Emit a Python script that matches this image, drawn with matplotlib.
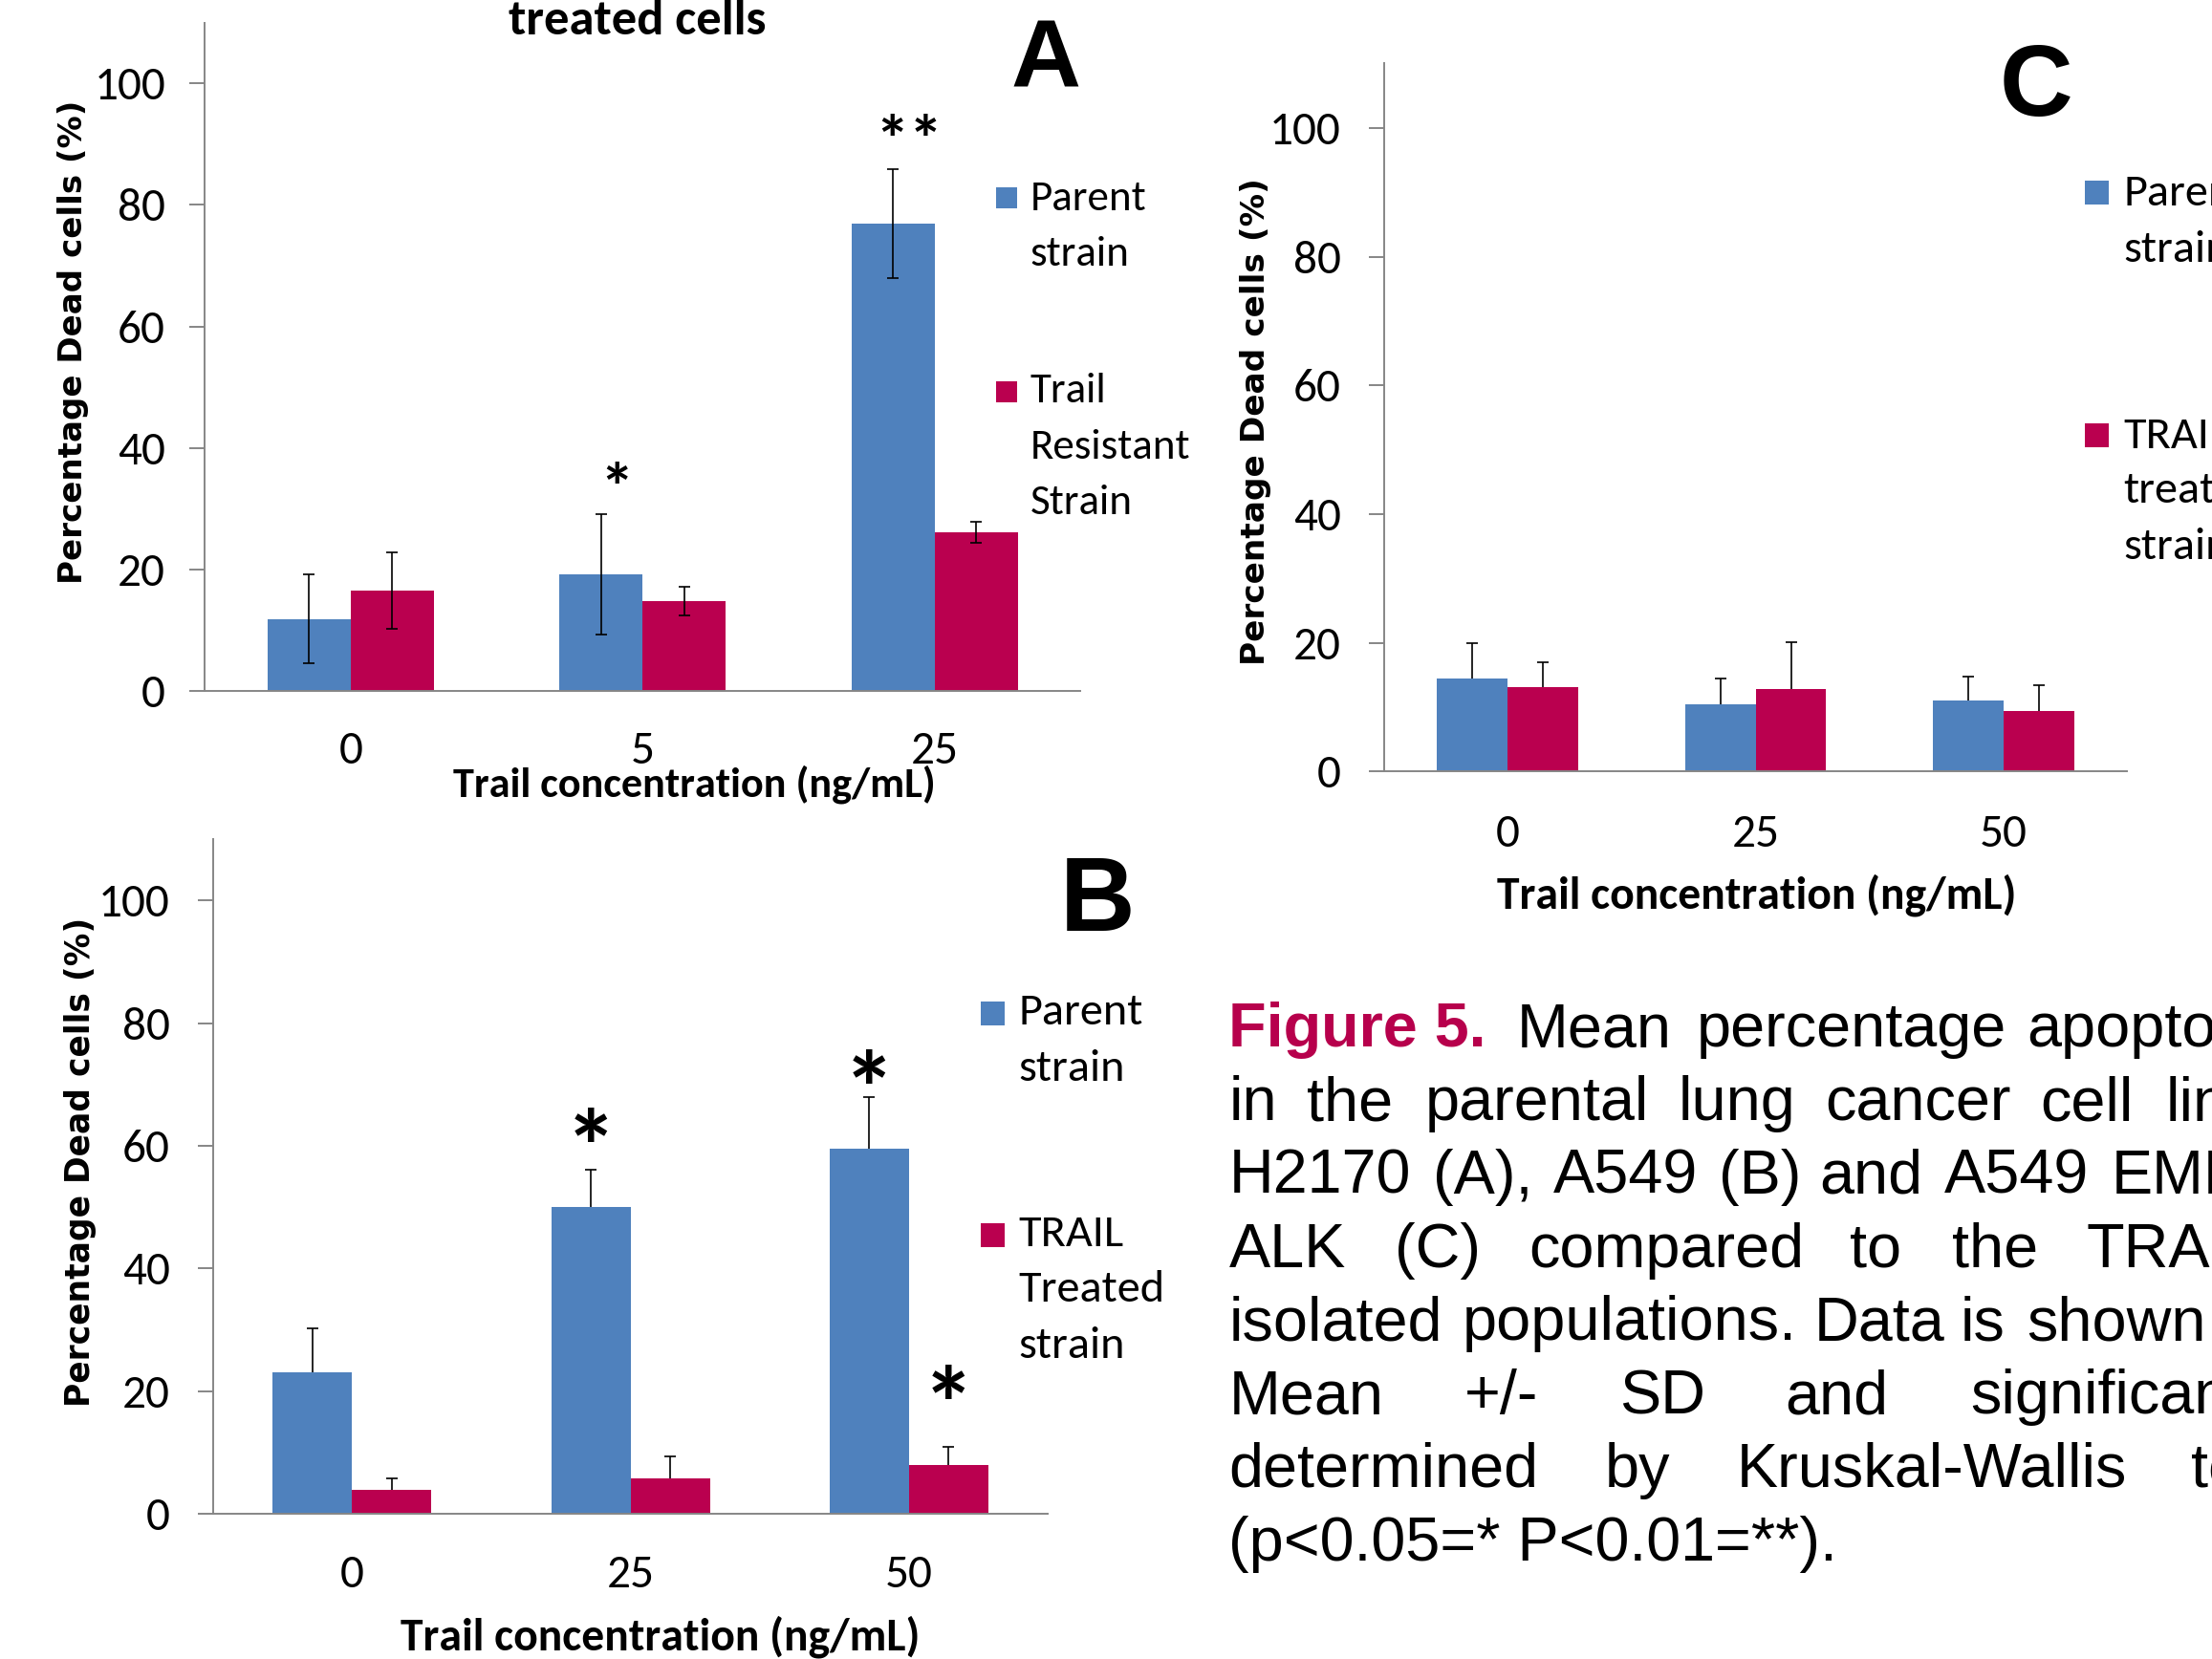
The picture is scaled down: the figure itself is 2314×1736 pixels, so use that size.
import matplotlib
matplotlib.use('Agg')
import matplotlib.pyplot as plt
from matplotlib import font_manager
from matplotlib.font_manager import FontProperties
from matplotlib.textpath import TextPath
from matplotlib.patches import Rectangle
import numpy as np

# ---------------- data ----------------
y_ticks = [0, 20, 40, 60, 80, 100]
x_label = 'Trail concentration (ng/mL)'
y_label = 'Percentage Dead cells (%)'

a_categories = ['0', '5', '25']
a_parent = [11.9, 19.2, 76.9]
a_parent_sd = [7.3, 9.9, 9.0]
a_resistant = [16.6, 14.8, 26.1]
a_resistant_sd = [6.3, 2.4, 1.7]
a_legend = [['Parent', 'strain'], ['Trail', 'Resistant', 'Strain']]
a_title = 'treated cells'
a_sig = [(1, 0, '*'), (2, 0, '**')]          # (category, series, label)

b_categories = ['0', '25', '50']
b_parent = [23.0, 50.1, 59.6]
b_parent_sd = [7.3, 6.0, 8.3]
b_treated = [3.9, 5.8, 7.9]
b_treated_sd = [1.9, 3.6, 3.0]
b_legend = [['Parent', 'strain'], ['TRAIL', 'Treated', 'strain']]
b_sig = [(1, 0, '*'), (2, 0, '*'), (2, 1, '*')]

c_categories = ['0', '25', '50']
c_parent = [14.5, 10.4, 11.0]
c_parent_sd = [5.5, 4.1, 3.8]
c_treated = [13.1, 12.9, 9.4]
c_treated_sd = [3.9, 7.2, 4.1]
c_legend = [['Parent', 'strain'], ['TRAIL', 'treated', 'strain']]

caption_head = 'Figure 5.'
caption_lines = [
    ['Mean', 'percentage', 'apoptosis'],
    ['in', 'the', 'parental', 'lung', 'cancer', 'cell', 'lines'],
    ['H2170', '(A),', 'A549', '(B)', 'and', 'A549', 'EML4-'],
    ['ALK', '(C)', 'compared', 'to', 'the', 'TRAIL'],
    ['isolated', 'populations.', 'Data', 'is', 'shown'],
    ['Mean', '+/-', 'SD', 'and', 'significance'],
    ['determined', 'by', 'Kruskal-Wallis', 'test'],
    ['(p<0.05=* P<0.01=**).'],
]

# ---------------- layout (reference grid 1568 x 1176) ----------------
W, H = 2314, 1736
DW, DH = 1568.0, 1176.0
S = W / DW
PT = S * 72.0 / 100.0          # points per reference-grid pixel

installed = {f.name for f in font_manager.fontManager.ttflist}
def pick(cands):
    for c in cands:
        if c in installed:
            return c
    return 'DejaVu Sans'

CAL = pick(['Carlito', 'Calibri', 'Lato', 'Open Sans'])
ARIAL = pick(['Liberation Sans', 'Arimo', 'DejaVu Sans'])
VERD = 'DejaVu Sans'

plt.rcParams['font.family'] = [CAL, 'DejaVu Sans']

BLUE = '#4F81BD'
RED = '#BA004F'
AXC = '#868686'
CAPC = '#B7004C'


def ink(text, family, weight='normal', size=100.0):
    fp = FontProperties(family=family, weight=weight)
    return TextPath((0, 0), text, size=size, prop=fp).get_extents()


def fit(text, family, weight, target_w):
    e = ink(text, family, weight)
    return 100.0 * target_w * PT / e.width


def fx(x):
    return x / DW


def fy(y):
    return 1.0 - y / DH


def rect(l, r, t, b):
    return [l / DW, 1.0 - b / DH, (r - l) / DW, (b - t) / DH]


fig = plt.figure(figsize=(W / 100, H / 100), dpi=100)
fig.patch.set_facecolor('white')

BW = 0.285


def panel(r, cats, s1, e1, s2, e2, symmetric, ypad, xpad, tick_w,
          xl_w, xl_pos, yl_h, yl_pos):
    ax = fig.add_axes(r)
    x = np.arange(len(cats)) + 0.5
    ax.bar(x - BW / 2, s1, BW, color=BLUE, linewidth=0, zorder=2)
    ax.bar(x + BW / 2, s2, BW, color=RED, linewidth=0, zorder=2)
    for xs, v, e in [(x - BW / 2, s1, e1), (x + BW / 2, s2, e2)]:
        e = np.asarray(e, dtype=float)
        yerr = e if symmetric else [np.zeros_like(e), e]
        _, caps, _ = ax.errorbar(xs, v, yerr=yerr, fmt='none', ecolor='black',
                                 elinewidth=1.2, capsize=4.5, capthick=1.2,
                                 zorder=3)
        if not symmetric:
            caps[0].set_visible(False)
    ax.set_xlim(0, len(cats))
    ax.set_ylim(0, 110)
    ax.set_xticks(x, cats)
    ax.set_yticks(y_ticks)
    for sp in ['top', 'right']:
        ax.spines[sp].set_visible(False)
    for sp in ['left', 'bottom']:
        ax.spines[sp].set_color(AXC)
        ax.spines[sp].set_linewidth(1.4)
    ts = fit('100', CAL, 'normal', tick_w)
    ax.tick_params(axis='y', direction='out', length=11.5, width=1.4,
                   color=AXC, pad=ypad, labelsize=ts)
    ax.tick_params(axis='x', length=0, pad=xpad, labelsize=ts)
    ax.set_facecolor('none')
    xs_ = fit(x_label, CAL, 'bold', xl_w)
    ax.set_xlabel(x_label, fontweight='bold', fontsize=xs_, va='center')
    ax.xaxis.set_label_coords(*xl_pos)
    ys_ = fit(y_label, VERD, 'bold', yl_h)
    ax.set_ylabel(y_label, family=[VERD], fontweight='bold', fontsize=ys_,
                  va='center')
    ax.yaxis.set_label_coords(*yl_pos)
    return ax, x


def legend(sq_x, sq_size, sq_tops, tx, line_ys, labels, fs):
    for col, top, ys, lines in zip([BLUE, RED], sq_tops, line_ys, labels):
        fig.add_artist(Rectangle((fx(sq_x), fy(top + sq_size)), sq_size / DW,
                                 sq_size / DH, transform=fig.transFigure,
                                 facecolor=col, edgecolor='none'))
        for y, t in zip(ys, lines):
            fig.text(fx(tx), fy(y), t, fontsize=fs, ha='left', va='center',
                     family=[CAL, 'DejaVu Sans'])


def stars(ax, x, sig, vals, errs, gaps, dx, family, weight, size):
    for (ci, si, lab), g in zip(sig, gaps):
        xc = x[ci] + (-BW / 2 if si == 0 else BW / 2) + dx
        yc = vals[si][ci] + errs[si][ci] + g
        e = ink(lab, family, weight, size)
        cx = (e.x0 + e.x1) / 2
        cy = (e.y0 + e.y1) / 2
        ax.annotate(lab, xy=(xc, yc), xytext=(-cx, -cy),
                    textcoords='offset points', ha='left', va='baseline',
                    fontfamily=family, fontweight=weight, fontsize=size,
                    annotation_clip=False)


def letter(cx, base, lab, target_w):
    fs = fit(lab, ARIAL, 'bold', target_w)
    fig.text(fx(cx), fy(base), lab, family=[ARIAL], fontweight='bold',
             fontsize=fs, ha='center', va='baseline')


# ---------- panel A ----------
axA, xA = panel(rect(145, 766, 16, 490), a_categories, a_parent, a_parent_sd,
                a_resistant, a_resistant_sd, True, 18, 30, 47,
                340, (0.559, -0.139), 339, (-0.150, 0.522))
axA.text(0.4944, 0.983, a_title, transform=axA.transAxes, ha='center',
         va='baseline', fontweight='bold',
         fontsize=fit(a_title, CAL, 'bold', 181))
stars(axA, xA, a_sig, [a_parent, a_resistant], [a_parent_sd, a_resistant_sd],
      [6.9, 7.3], 0.055, CAL, 'bold',
      fit('**', CAL, 'bold', 39))
legend(706, 15, [133, 270], 730, [[141, 180], [277, 317, 356]], a_legend,
       fit('Resistant', CAL, 'normal', 111))
letter(741, 62, 'A', 46)

# ---------- panel B ----------
axB, xB = panel(rect(151, 743, 595, 1073), b_categories, b_parent, b_parent_sd,
                b_treated, b_treated_sd, False, 21, 31, 47,
                366, (0.5355, -0.182), 343, (-0.159, 0.522))
stars(axB, xB, b_sig, [b_parent, b_treated], [b_parent_sd, b_treated_sd],
      [7.3, 5.0, 10.5], 0.0, CAL, 'bold', fit('*', CAL, 'bold', 23))
legB = fit('Treated', CAL, 'normal', 101)
legend(695, 17, [710, 867], 722, [[718, 758], [875, 914, 954]], b_legend, legB)
letter(778, 660, 'B', 45)

# ---------- panel C ----------
axC, xC = panel(rect(981, 1508, 45, 547), c_categories, c_parent, c_parent_sd,
                c_treated, c_treated_sd, False, 21, 32, 47,
                366, (0.501, -0.175), 342, (-0.1727, 0.494))
legend(1478, 17, [128, 300], 1505, [[137, 177], [309, 348, 388]], c_legend,
       legB)
letter(1443, 82, 'C', 47)

# ---------- caption ----------
cap_fs = fit(caption_lines[-1][0], ARIAL, 'normal', 425)
word_x = [
    [1075.5, 1202.4, 1437.0],
    [871, 926, 1010, 1189.5, 1294, 1446, 1535],
    [871, 1015.7, 1100.8, 1218.5, 1289.8, 1378, 1496.7],
    [871, 988.6, 1083.8, 1311.4, 1383.6, 1479.2],
    [871, 1036.4, 1286, 1389.6, 1437],
    [871, 1037.8, 1148, 1265.4, 1396.5],
    [871, 1137.6, 1231, 1552.8],
    [871],
]
base0, lstep = 742, 52
fig.text(fx(871), fy(base0), caption_head, family=[ARIAL], fontweight='bold',
         color=CAPC, fontsize=cap_fs, ha='left', va='baseline')
for i, (words, xs) in enumerate(zip(caption_lines, word_x)):
    for w, xx in zip(words, xs):
        fig.text(fx(xx), fy(base0 + i * lstep), w, family=[ARIAL],
                 fontsize=cap_fs, ha='left', va='baseline', color='black')

fig.savefig('out.png', dpi=100, facecolor='white')
